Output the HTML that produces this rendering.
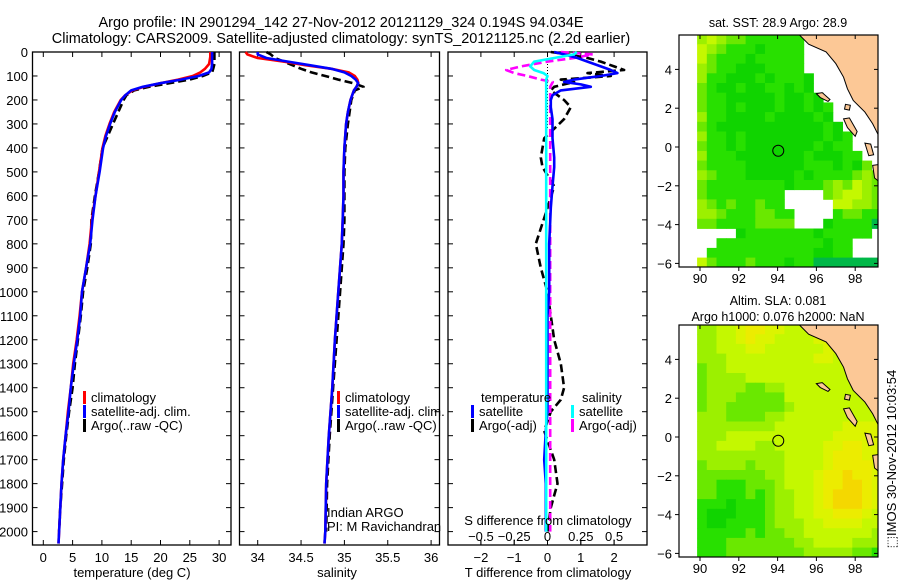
<!DOCTYPE html>
<html><head><meta charset="utf-8">
<style>
html,body{margin:0;padding:0;background:#fff;}
svg{display:block;font-family:"Liberation Sans",sans-serif;}
</style></head>
<body>
<svg id="fig" width="900" height="580" viewBox="0 0 900 580" xmlns="http://www.w3.org/2000/svg">
<text x="341" y="27" font-size="14.5" text-anchor="middle">Argo profile: IN 2901294_142 27-Nov-2012 20121129_324 0.194S 94.034E</text>
<text x="341" y="43" font-size="14.5" text-anchor="middle">Climatology: CARS2009. Satellite-adjusted climatology: synTS_20121125.nc (2.2d earlier)</text>
<g id="p1"></g>
<g id="p2"></g>
<g id="p3"></g>
<g id="m1"></g>
<g id="m2"></g>
<text transform="translate(896,459) rotate(-90)" font-size="13" text-anchor="middle">⬚IMOS 30-Nov-2012 10:03:54</text>
</svg>
<script>
// ---------- profile data ----------
const depthT = [0,20,50,70,85,100,115,130,145,160,180,200,250,300,350,400,500,600,700,800,900,1000,1100,1200,1300,1400,1500,1600,1700,1800,1900,2000,2050];
const climT = [28.5,28.5,28.3,27.6,26.8,25.5,23,20,17.2,15.2,14,13.2,12.1,11.3,10.6,10.1,9.5,8.9,8.3,7.9,7.3,6.6,6.2,5.7,5.1,4.7,4.2,3.8,3.4,3.1,2.9,2.7,2.6];
const satT = [28.8,28.8,28.8,28.7,28.3,26.5,23.5,20,17,15,14,13.3,12.2,11.4,10.7,10.2,9.6,8.9,8.4,8.0,7.3,6.6,6.3,5.8,5.2,4.7,4.3,3.8,3.4,3.1,2.9,2.7,2.6];
const depthArgoT = [0,20,50,70,85,100,115,130,145,160,180,200,250,300,350,400,500,600,700,800,900,1000,1100,1200,1300,1400,1500,1600,1700,1800,1900,2000];
const argoT = [29.2,29.2,29.2,29.0,28.8,27.2,25,21.5,18,15.5,14.2,13.7,12.8,11.9,11.0,10.1,9.5,8.8,8.2,8.1,7.5,6.8,6.4,5.9,5.4,5.0,4.4,3.9,3.5,3.2,2.9,2.7];

const depthS = [0,10,25,40,55,70,85,100,115,130,145,160,180,200,250,300,400,500,600,700,800,1000,1200,1400,1600,1800,2000,2050];
const climS = [33.86,33.88,34.0,34.3,34.55,34.85,35.05,35.12,35.15,35.16,35.14,35.11,35.09,35.07,35.04,35.02,35.0,34.99,34.99,34.98,34.97,34.93,34.89,34.86,34.82,34.79,34.78,34.77];
const satS = [34.0,34.0,34.1,34.35,34.6,34.85,35.0,35.08,35.13,35.16,35.14,35.11,35.09,35.07,35.04,35.02,35.0,34.99,34.99,34.98,34.97,34.93,34.89,34.86,34.82,34.79,34.78,34.77];
const depthArgoS = [0,10,25,40,55,70,85,100,115,130,145,160,180,200,250,300,400,500,600,700,800,1000,1200,1400,1600,1800,2000];
const argoS = [34.1,34.15,34.2,34.3,34.4,34.5,34.62,34.78,34.93,35.1,35.22,35.12,35.1,35.08,35.06,35.04,35.01,35.0,35.0,35.0,34.99,34.95,34.91,34.87,34.83,34.8,34.79];

const depthD = [0,10,25,40,60,75,88,100,115,125,135,145,160,180,200,230,280,320,360,440,480,560,650,800,900,1000,1100,1200,1300,1400,1450,1500,1580,1700,1800,1900,2000];
const satTd = [0.2,0.5,0.9,1.2,1.6,1.9,2.1,1.6,0.8,0.5,1.0,1.3,0.4,0.15,0.1,0.1,0.15,0.15,0.15,0.2,0.2,0.15,0.1,0.05,0.05,0.05,0.0,0.0,0.0,0.0,0.0,0.0,-0.05,-0.1,-0.05,-0.05,-0.05];
const argoTd = [0.1,0.6,1.2,1.6,2.0,2.3,1.2,1.9,0.4,0.8,0.5,0.2,0.1,0.3,0.5,0.7,0.5,0.2,-0.1,-0.2,-0.15,0.2,0.0,-0.35,-0.2,0.0,0.1,0.2,0.4,0.5,0.4,0.1,-0.1,0.2,0.3,0.1,0.0];
const satSd = [0.22,0.2,0.05,-0.1,-0.13,-0.1,-0.03,0,-0.01,-0.01,-0.01,-0.01,-0.01,-0.01,-0.01,-0.01,-0.01,-0.01,-0.01,-0.01,-0.01,-0.01,-0.01,-0.01,-0.01,-0.01,-0.01,-0.01,-0.01,-0.01,-0.01,-0.01,-0.01,-0.01,-0.01,-0.01,-0.01];
const argoSd = [0.1,0.34,0.2,0.0,-0.2,-0.31,-0.25,-0.15,-0.05,0.04,0.03,0.02,0.02,0.02,0.02,0.02,0.02,0.02,0.02,0.02,0.02,0.02,0.02,0.02,0.02,0.02,0.02,0.02,0.02,0.02,0.02,0.02,0.02,0.02,0.02,0.02,0.02];

const depthTicks = [0,100,200,300,400,500,600,700,800,900,1000,1100,1200,1300,1400,1500,1600,1700,1800,1900,2000];
const tempTicks = [0,5,10,15,20,25,30];
const salTicks = [34,34.5,35,35.5,36];
const salTickLabels = ["34","34.5","35","35.5","36"];
const tdTicks = [-2,-1,0,1,2];
const sdTicks = [-0.5,-0.25,0,0.25,0.5];
const sdTickLabels = ["\u22120.5","\u22120.25","0","0.25","0.5"];
const tdTickLabels = ["\u22122","\u22121","0","1","2"];

// ---------- map data (0.5 deg cells, lon 89.85.., lat 5.8 downward) ----------
const sstRows = [
"45433222222.....888",
"54322212222........",
"53222122222........",
"43221112222........",
"422111212221.......",
"321121122121.......",
"3221111121121......",
"32212111211212.....",
"42211112111121.....",
"321111111111121....",
"4221211111111212...",
"3221211111112122...",
"42221111111211122..",
"322221111112221213.",
"4322211111212222343",
"3222222221222343543",
"322222222....345543",
"432322322.....55443",
"4432223322....23322",
"3322223333...122220",
"....12222222122222.0",
"..22222222222122....",
".222222222221122...0",
"5322232221220000000"];
const slaRows = [
"4455677665556677644",
"4455676655556666544",
"4455566555555665544",
"4445555555556655555",
"3445555555555555555",
"3444455555555555555",
"3444433445555555555",
"3444333335555555555",
"3443333334555555555",
"4443333445555555555",
"4444444455555556666",
"4445555555555566666",
"4455554455555667766",
"4444444445555677766",
"3444434445555677776",
"3333333445556778776",
"3322233345556778876",
"3322232344556788876",
"2221222344556788876",
"2111222344556677765",
"2112222344455666655",
"2222232334455555554",
"2223333333445555444",
"2223333333344444332"];
const mapPalette = ["#00b848","#10d400","#28e000","#6ae800","#9cf000","#c4f800","#dcf400","#ecec00","#f4d800","#f8c800"];
const lonTicks = [90,92,94,96,98];
const latTicks = [-6,-4,-2,0,2,4];
const coastLon = [95.1,95.6,96.5,97.0,97.4,97.6,97.9,98.5,98.9,99.25,99.25];
const coastLat = [5.8,5.3,4.9,4.3,3.6,3.0,2.4,1.8,1.2,0.5,5.8];
const islands = [
 {lon:[96.0,96.3,96.7,96.6,96.2],lat:[2.75,2.8,2.45,2.35,2.55]},
 {lon:[97.4,97.7,98.1,98.0,97.6],lat:[1.45,1.5,0.8,0.55,1.0]},
 {lon:[97.5,97.75,97.7,97.45],lat:[2.2,2.15,1.9,1.95]},
 {lon:[98.5,98.8,98.95,98.7],lat:[0.2,0.15,-0.4,-0.45]},
 {lon:[98.9,99.25,99.25,99.0],lat:[-0.95,-0.9,-1.8,-1.6]}
];
const argoLon = 94.034, argoLat = -0.194;

const NS="http://www.w3.org/2000/svg";
function mk(parent,tag,attrs){const e=document.createElementNS(NS,tag);for(const k in attrs)e.setAttribute(k,attrs[k]);parent.appendChild(e);return e;}

// ---------- profile panels ----------
const Y0=52, DPX=0.2398, PB=545;
function yD(d){return Y0+d*DPX;}
function axisFrame(g,x0,x1,ticksX,xf,showDepthLabels){
  const r=mk(g,'rect',{x:x0,y:Y0,width:x1-x0,height:PB-Y0,fill:'none',stroke:'#000','stroke-width':1.3});
  
  
  depthTicks.forEach(d=>{
    mk(g,'line',{x1:x0,x2:x0+5,y1:yD(d),y2:yD(d),stroke:'#000'});
    mk(g,'line',{x1:x1-5,x2:x1,y1:yD(d),y2:yD(d),stroke:'#000'});
    if(showDepthLabels){
      const t=mk(g,'text',{x:28,y:yD(d)+5,'font-size':13,'text-anchor':'end'});
      t.textContent=d;
      
      
    }
  });
  ticksX.forEach(v=>{
    mk(g,'line',{x1:xf(v),x2:xf(v),y1:Y0,y2:Y0+5,stroke:'#000'});
    mk(g,'line',{x1:xf(v),x2:xf(v),y1:PB-5,y2:PB,stroke:'#000'});
  });
}
function line(g,xs,ds,xf,color,dash,name){
  const pts=xs.map((v,i)=>xf(v).toFixed(1)+','+yD(ds[i]).toFixed(1)).join(' ');
  const p=mk(g,'polyline',{points:pts,fill:'none',stroke:color,'stroke-width':2.6,'stroke-linejoin':'round'});
  if(dash)p.setAttribute('stroke-dasharray',dash);
  
  
}
function label(g,x,y,txt,size,anchor,name){
  const t=mk(g,'text',{x:x,y:y,'font-size':size,'text-anchor':anchor||'start'});
  t.textContent=txt;
  
  
  return t;
}
function legendEntry(g,x,y,color,txt){
  const r=mk(g,'rect',{x:x,y:y-11,width:3,height:13,fill:color});
  
  
  label(g,x+8,y,txt,13,'start','legend-entry');
}

// Panel 1
const g1=document.getElementById('p1');
const xT=v=>43.3+v*5.86;
axisFrame(g1,32.5,231,tempTicks,xT,true);
tempTicks.forEach(v=>label(g1,xT(v),562,v,13,'middle','temperature-tick-label'));
label(g1,132,577,'temperature (deg C)',13,'middle','x-axis-title-temperature');
line(g1,argoT,depthArgoT,xT,'#000','8,4','argo-temperature-line');
line(g1,climT,depthT,xT,'#f00',null,'climatology-temperature-line');
line(g1,satT,depthT,xT,'#00f',null,'satellite-temperature-line');
legendEntry(g1,83,402,'#f00','climatology');
legendEntry(g1,83,416,'#00f','satellite-adj. clim.');
legendEntry(g1,83,430,'#000','Argo(..raw -QC)');

// Panel 2
const g2=document.getElementById('p2');
const xS=v=>257.7+(v-34)*86.7;
axisFrame(g2,239.5,439.5,salTicks,xS,false);
salTicks.forEach((v,i)=>label(g2,xS(v),562,salTickLabels[i],13,'middle','salinity-tick-label'));
label(g2,337,577,'salinity',13,'middle','x-axis-title-salinity');
line(g2,argoS,depthArgoS,xS,'#000','8,4','argo-salinity-line');
line(g2,climS,depthS,xS,'#f00',null,'climatology-salinity-line');
line(g2,satS,depthS,xS,'#00f',null,'satellite-salinity-line');
legendEntry(g2,337,402,'#f00','climatology');
legendEntry(g2,337,416,'#00f','satellite-adj. clim.');
legendEntry(g2,337,430,'#000','Argo(..raw -QC)');
label(g2,327,517,'Indian ARGO',13,'start','pi-institution');
label(g2,327,531,'PI: M Ravichandran',13,'start','pi-name');

// Panel 3
const g3=document.getElementById('p3');
const xTd=v=>547.5+v*33.3;
const xSd=v=>547.5+v*133.2;
axisFrame(g3,448,647,tdTicks,xTd,false);
sdTicks.forEach(v=>mk(g3,'line',{x1:xSd(v),x2:xSd(v),y1:PB-5,y2:PB,stroke:'#000'}));
mk(g3,'line',{x1:547.5,x2:547.5,y1:Y0,y2:130,stroke:'#000','stroke-dasharray':'1,2'});
line(g3,argoTd,depthD,xTd,'#000','8,4','argo-temperature-diff-line');
line(g3,argoSd,depthD,xSd,'#f0f','8,4','argo-salinity-diff-line');
line(g3,satTd,depthD,xTd,'#00f',null,'satellite-temperature-diff-line');
line(g3,satSd,depthD,xSd,'#0ff',null,'satellite-salinity-diff-line');
sdTicks.forEach((v,i)=>label(g3,xSd(v),541,sdTickLabels[i],13,'middle','s-diff-tick-label'));
tdTicks.forEach((v,i)=>label(g3,xTd(v),562,tdTickLabels[i],13,'middle','t-diff-tick-label'));
label(g3,548,525,'S difference from climatology',13,'middle','s-diff-axis-title');
label(g3,548,577,'T difference from climatology',13,'middle','t-diff-axis-title');
label(g3,481,402,'temperature',13,'start','legend-title-temperature');
label(g3,582,402,'salinity',13,'start','legend-title-salinity');
legendEntry(g3,471,416,'#00f','satellite');
legendEntry(g3,471,430,'#000','Argo(-adj)');
legendEntry(g3,571,416,'#0ff','satellite');
legendEntry(g3,571,430,'#f0f','Argo(-adj)');

// ---------- maps ----------
function drawMap(g,rows,dy,titles,id){
  const lx=lon=>700+(lon-90)*19.4;
  const ly=lat=>147+dy-lat*19.4;
  const L=679,R=878,T=35+dy,B=267+dy;
  const cp=mk(g,'clipPath',{id:'clip'+id});
  mk(cp,'rect',{x:L,y:T,width:R-L,height:B-T});
  const inner=mk(g,'g',{'clip-path':'url(#clip'+id+')'});
  rows.forEach((row,j)=>{
    for(let i=0;i<row.length;i++){
      const c=row[i]; if(c==='.')continue;
      const lon0=89.85+i*0.5, lat0=5.8-j*0.5;
      const r=mk(inner,'rect',{x:lx(lon0).toFixed(1),y:ly(lat0).toFixed(1),width:(0.5*19.4+0.4).toFixed(1),height:(0.5*19.4+0.4).toFixed(1),fill:mapPalette[+c]});
      
      
    }
  });
  const land=mk(inner,'polygon',{points:coastLon.map((v,i)=>lx(v)+','+ly(coastLat[i])).join(' '),fill:'#fcc896',stroke:'#000','stroke-width':1});
  
  
  islands.forEach(is=>{
    const p=mk(inner,'polygon',{points:is.lon.map((v,i)=>lx(v)+','+ly(is.lat[i])).join(' '),fill:'#fcc896',stroke:'#000','stroke-width':1});
    
    
  });
  const c=mk(g,'circle',{cx:lx(argoLon),cy:ly(argoLat),r:5.5,fill:'none',stroke:'#000','stroke-width':1});
  
  
  const fr=mk(g,'rect',{x:L,y:T,width:R-L,height:B-T,fill:'none',stroke:'#000','stroke-width':1.2});
  
  
  lonTicks.forEach(v=>{
    mk(g,'line',{x1:lx(v),x2:lx(v),y1:B,y2:B+4,stroke:'#000'});
    mk(g,'line',{x1:lx(v),x2:lx(v),y1:T,y2:T+4,stroke:'#000'});
    label(g,lx(v),B+16,v,13,'middle','lon-tick-label');
  });
  latTicks.forEach(v=>{
    mk(g,'line',{x1:L-4,x2:L,y1:ly(v),y2:ly(v),stroke:'#000'});
    mk(g,'line',{x1:R-4,x2:R,y1:ly(v),y2:ly(v),stroke:'#000'});
    label(g,L-7,ly(v)+5,v<0?'\u2212'+(-v):v,13,'end','lat-tick-label');
  });
  titles.forEach((t,k)=>label(g,778,titles.length===1?27+dy:T-20+k*16,t,12.5,'middle','map-title'));
}
drawMap(document.getElementById('m1'),sstRows,0,['sat. SST: 28.9 Argo: 28.9'],1);
drawMap(document.getElementById('m2'),slaRows,290,['Altim. SLA: 0.081','Argo h1000: 0.076 h2000: NaN'],2);
</script>
</body></html>
